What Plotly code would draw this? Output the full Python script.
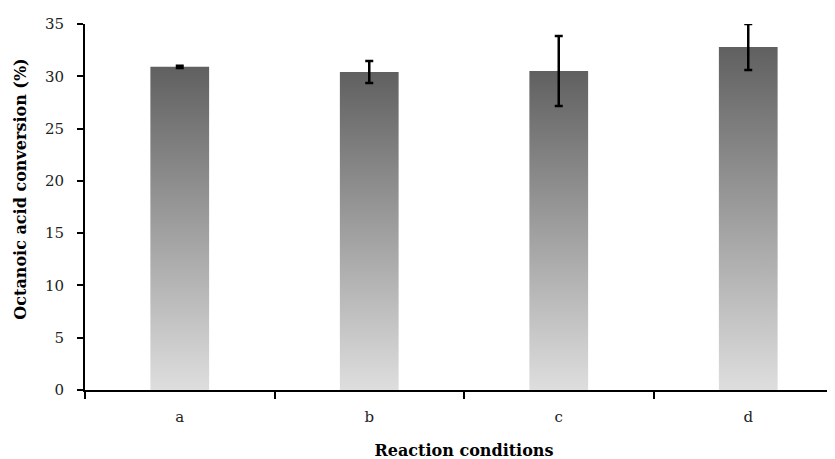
import plotly.graph_objects as go

categories = ["a", "b", "c", "d"]
conversion = [30.9, 30.4, 30.5, 32.8]
errors = [0.1, 1.05, 3.35, 2.2]
y_ticks = [0, 5, 10, 15, 20, 25, 30, 35]

BAR_W = 0.31
FONT = "DejaVu Serif"
positions = list(range(len(categories)))

fig = go.Figure()
for i, v in zip(positions, conversion):
    fig.add_trace(go.Scatter(
        x=[i - BAR_W / 2, i + BAR_W / 2, i + BAR_W / 2, i - BAR_W / 2, i - BAR_W / 2],
        y=[0, 0, v, v, 0],
        mode="lines", line=dict(width=0), fill="toself",
        fillgradient=dict(type="vertical", colorscale=[[0, "#dedede"], [1, "#606060"]],
                          start=0, stop=v),
        hoverinfo="skip", showlegend=False,
    ))

fig.add_trace(go.Scatter(
    x=positions, y=conversion, mode="markers",
    marker=dict(size=0.1, color="rgba(0,0,0,0)"),
    error_y=dict(type="data", array=errors, visible=True, color="black",
                 thickness=2.5, width=4),
    showlegend=False,
))

fig.add_annotation(
    text="<b>Octanoic acid conversion (%)</b>", textangle=-90,
    xref="paper", yref="paper", x=-0.0845, y=0.55, xanchor="center", yanchor="middle",
    showarrow=False, font=dict(size=16, color="black"),
)

fig.update_layout(
    width=835, height=459,
    margin=dict(l=77, r=0, t=16, b=77),
    plot_bgcolor="white", paper_bgcolor="white",
    font=dict(family=FONT, size=15, color="#222222"),
    xaxis=dict(
        range=[-0.5, 3.5], tickmode="array", tickvals=positions, ticktext=categories,
        ticks="", showgrid=False, zeroline=False,
        showline=True, linecolor="black", linewidth=2,
        minor=dict(tickmode="array", tickvals=[-0.5, 0.5, 1.5, 2.5], ticks="outside",
                   ticklen=7, tickwidth=2, tickcolor="black", showgrid=False),
        ticklabelstandoff=12,
        title=dict(text="<b>Reaction conditions</b>", font=dict(size=16, color="black"), standoff=20),
        tickfont=dict(size=15),
    ),
    yaxis=dict(
        range=[0, 35], tickmode="array", tickvals=y_ticks,
        ticks="outside", ticklen=6, tickwidth=2, tickcolor="black",
        ticklabelstandoff=10,
        showgrid=False, zeroline=False, showline=True, linecolor="black", linewidth=2,
        tickfont=dict(size=15),
    ),
)

fig.write_html("out.html")
